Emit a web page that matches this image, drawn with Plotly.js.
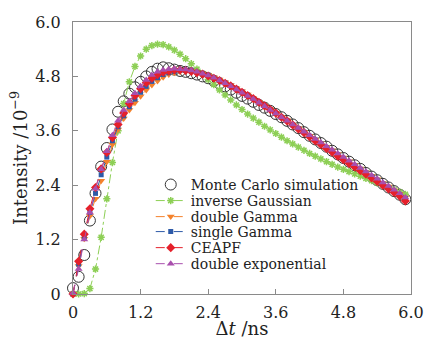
<!DOCTYPE html>
<html><head><meta charset="utf-8">
<script src="https://cdn.plot.ly/plotly-3.0.1.min.js"></script>
<style>html,body{margin:0;padding:0;background:#fff}#chart{width:424px;height:339px}</style>
</head><body><div id="chart"></div>
<script>
var t = [0.0,0.1,0.2,0.3,0.4,0.5,0.6,0.7,0.8,0.9,1.0,1.1,1.2,1.3,1.4,1.5,1.6,1.7,1.8,1.9,2.0,2.1,2.2,2.3,2.4,2.5,2.6,2.7,2.8,2.9,3.0,3.1,3.2,3.3,3.4,3.5,3.6,3.7,3.8,3.9,4.0,4.1,4.2,4.3,4.4,4.5,4.6,4.7,4.8,4.9,5.0,5.1,5.2,5.3,5.4,5.5,5.6,5.7,5.8,5.9];
var monteCarlo = [0.13,0.38,0.86,1.62,2.22,2.81,3.22,3.63,4.02,4.25,4.42,4.56,4.68,4.80,4.90,4.97,5.00,4.98,4.95,4.92,4.90,4.87,4.84,4.80,4.76,4.70,4.64,4.58,4.51,4.44,4.37,4.31,4.24,4.17,4.11,4.04,3.97,3.90,3.82,3.74,3.66,3.57,3.49,3.41,3.33,3.25,3.16,3.08,3.00,2.92,2.84,2.76,2.67,2.59,2.51,2.43,2.35,2.27,2.19,2.09];
var inverseGaussian = [0.00,0.00,0.01,0.12,0.55,1.25,2.10,2.90,3.60,4.20,4.68,5.02,5.25,5.40,5.48,5.51,5.50,5.45,5.38,5.29,5.19,5.08,4.96,4.85,4.73,4.62,4.50,4.39,4.28,4.17,4.07,3.97,3.88,3.79,3.70,3.62,3.54,3.46,3.38,3.31,3.24,3.17,3.10,3.04,2.98,2.92,2.86,2.80,2.75,2.70,2.65,2.60,2.55,2.50,2.45,2.40,2.35,2.30,2.25,2.20];
var doubleGamma = [0.00,0.62,1.22,1.72,2.10,2.50,2.92,3.30,3.63,3.87,4.06,4.22,4.36,4.50,4.61,4.70,4.78,4.84,4.88,4.91,4.92,4.92,4.90,4.87,4.83,4.78,4.73,4.67,4.61,4.54,4.47,4.40,4.32,4.24,4.16,4.08,4.00,3.91,3.83,3.74,3.66,3.58,3.49,3.41,3.33,3.25,3.17,3.09,3.01,2.93,2.85,2.77,2.69,2.61,2.53,2.45,2.37,2.29,2.21,2.13];
var singleGamma = [0.00,0.66,1.26,1.80,2.22,2.63,3.02,3.38,3.69,3.93,4.13,4.30,4.45,4.58,4.69,4.77,4.84,4.88,4.91,4.93,4.93,4.92,4.89,4.86,4.82,4.77,4.72,4.66,4.60,4.53,4.46,4.39,4.31,4.23,4.15,4.07,3.99,3.90,3.82,3.73,3.65,3.57,3.48,3.40,3.32,3.23,3.15,3.07,2.99,2.91,2.83,2.75,2.67,2.59,2.51,2.43,2.35,2.27,2.19,2.11];
var ceapf = [0.00,0.72,1.32,1.88,2.35,2.76,3.12,3.45,3.74,3.99,4.20,4.38,4.53,4.66,4.76,4.84,4.89,4.92,4.94,4.94,4.93,4.91,4.88,4.85,4.81,4.76,4.71,4.65,4.59,4.52,4.45,4.38,4.31,4.23,4.15,4.07,3.99,3.90,3.82,3.73,3.64,3.56,3.47,3.38,3.30,3.21,3.13,3.04,2.96,2.88,2.80,2.72,2.64,2.56,2.48,2.40,2.32,2.24,2.16,2.05];
var doubleExponential = [0.02,0.55,1.20,1.80,2.32,2.75,3.15,3.50,3.82,4.06,4.25,4.43,4.58,4.72,4.83,4.90,4.94,4.96,4.97,4.96,4.95,4.93,4.90,4.86,4.82,4.77,4.71,4.65,4.58,4.51,4.44,4.37,4.30,4.22,4.14,4.06,3.98,3.90,3.82,3.74,3.66,3.58,3.50,3.42,3.34,3.26,3.18,3.10,3.02,2.94,2.86,2.78,2.70,2.62,2.54,2.46,2.38,2.30,2.22,2.13];
var seriesNames = ['Monte Carlo simulation','inverse Gaussian','double Gamma','single Gamma','CEAPF','double exponential'];
var tickVals = [0,1.2,2.4,3.6,4.8,6.0];
var tickText = ['0','1.2','2.4','3.6','4.8','6.0'];

var FONT = 'DejaVu Serif, Liberation Serif, serif';
var legendIds = ['legend','legend2','legend3','legend4','legend5','legend6'];
function fit(y, idx, color, sym, size, dash){
  return {x:t, y:y, name:seriesNames[idx], legend:legendIds[idx], type:'scatter', mode:'lines+markers', cliponaxis:false,
    line:{color:color, width:1, dash:dash},
    marker:{color:color, symbol:sym, size:size, line:{color:color, width:sym.indexOf('asterisk')>=0?1.5:0}}};
}
var data = [
  {x:t, y:monteCarlo, name:seriesNames[0], legend:legendIds[0], type:'scatter', mode:'markers', cliponaxis:false,
   marker:{symbol:'circle-open', size:11, color:'#333', line:{color:'#333', width:1}}},
  fit(inverseGaussian, 1, '#8dcf55', 'asterisk-open', 6, 'dashdot'),
  fit(doubleGamma, 2, '#f4822c', 'triangle-down', 7, 'dash'),
  fit(singleGamma, 3, '#2d5aa8', 'square', 5, 'dash'),
  fit(ceapf, 4, '#e5202b', 'diamond', 7, 'dash'),
  fit(doubleExponential, 5, '#a94fad', 'triangle-up', 7, 'dash')
];
var axisCommon = {showgrid:false, zeroline:false, showline:true, mirror:true, linecolor:'#8a8a8a', linewidth:1.2,
  ticks:'inside', ticklen:5, tickcolor:'#8a8a8a', tickmode:'array', tickvals:tickVals, ticktext:tickText,
  tickfont:{family:FONT, size:16, color:'#222'}};
var layout = {
  width:424, height:339, margin:{l:73, r:13, t:22, b:45},
  paper_bgcolor:'#fff', plot_bgcolor:'#fff', showlegend:true,
  xaxis:Object.assign({}, axisCommon, {range:[0,6], ticklabelstandoff:4,
    title:{text:'Δ<i>t</i> /ns', font:{family:FONT, size:18, color:'#222'}}}),
  yaxis:Object.assign({}, axisCommon, {range:[0,6], ticklabelstandoff:8,
    title:{text:'Intensity /10<sup>−9</sup>', font:{family:FONT, size:18, color:'#222'}}})
};
var legendRowsY = [0.401, 0.342, 0.283, 0.228, 0.169, 0.110];
legendIds.forEach(function(id, i){
  layout[id] = {x:0.23, y:legendRowsY[i], xanchor:'left', yanchor:'middle', bgcolor:'rgba(0,0,0,0)', borderwidth:0,
    font:{family:FONT, size:14, color:'#222'}, itemwidth:30};
});
Plotly.newPlot('chart', data, layout, {displayModeBar:false, staticPlot:true});
</script></body></html>
